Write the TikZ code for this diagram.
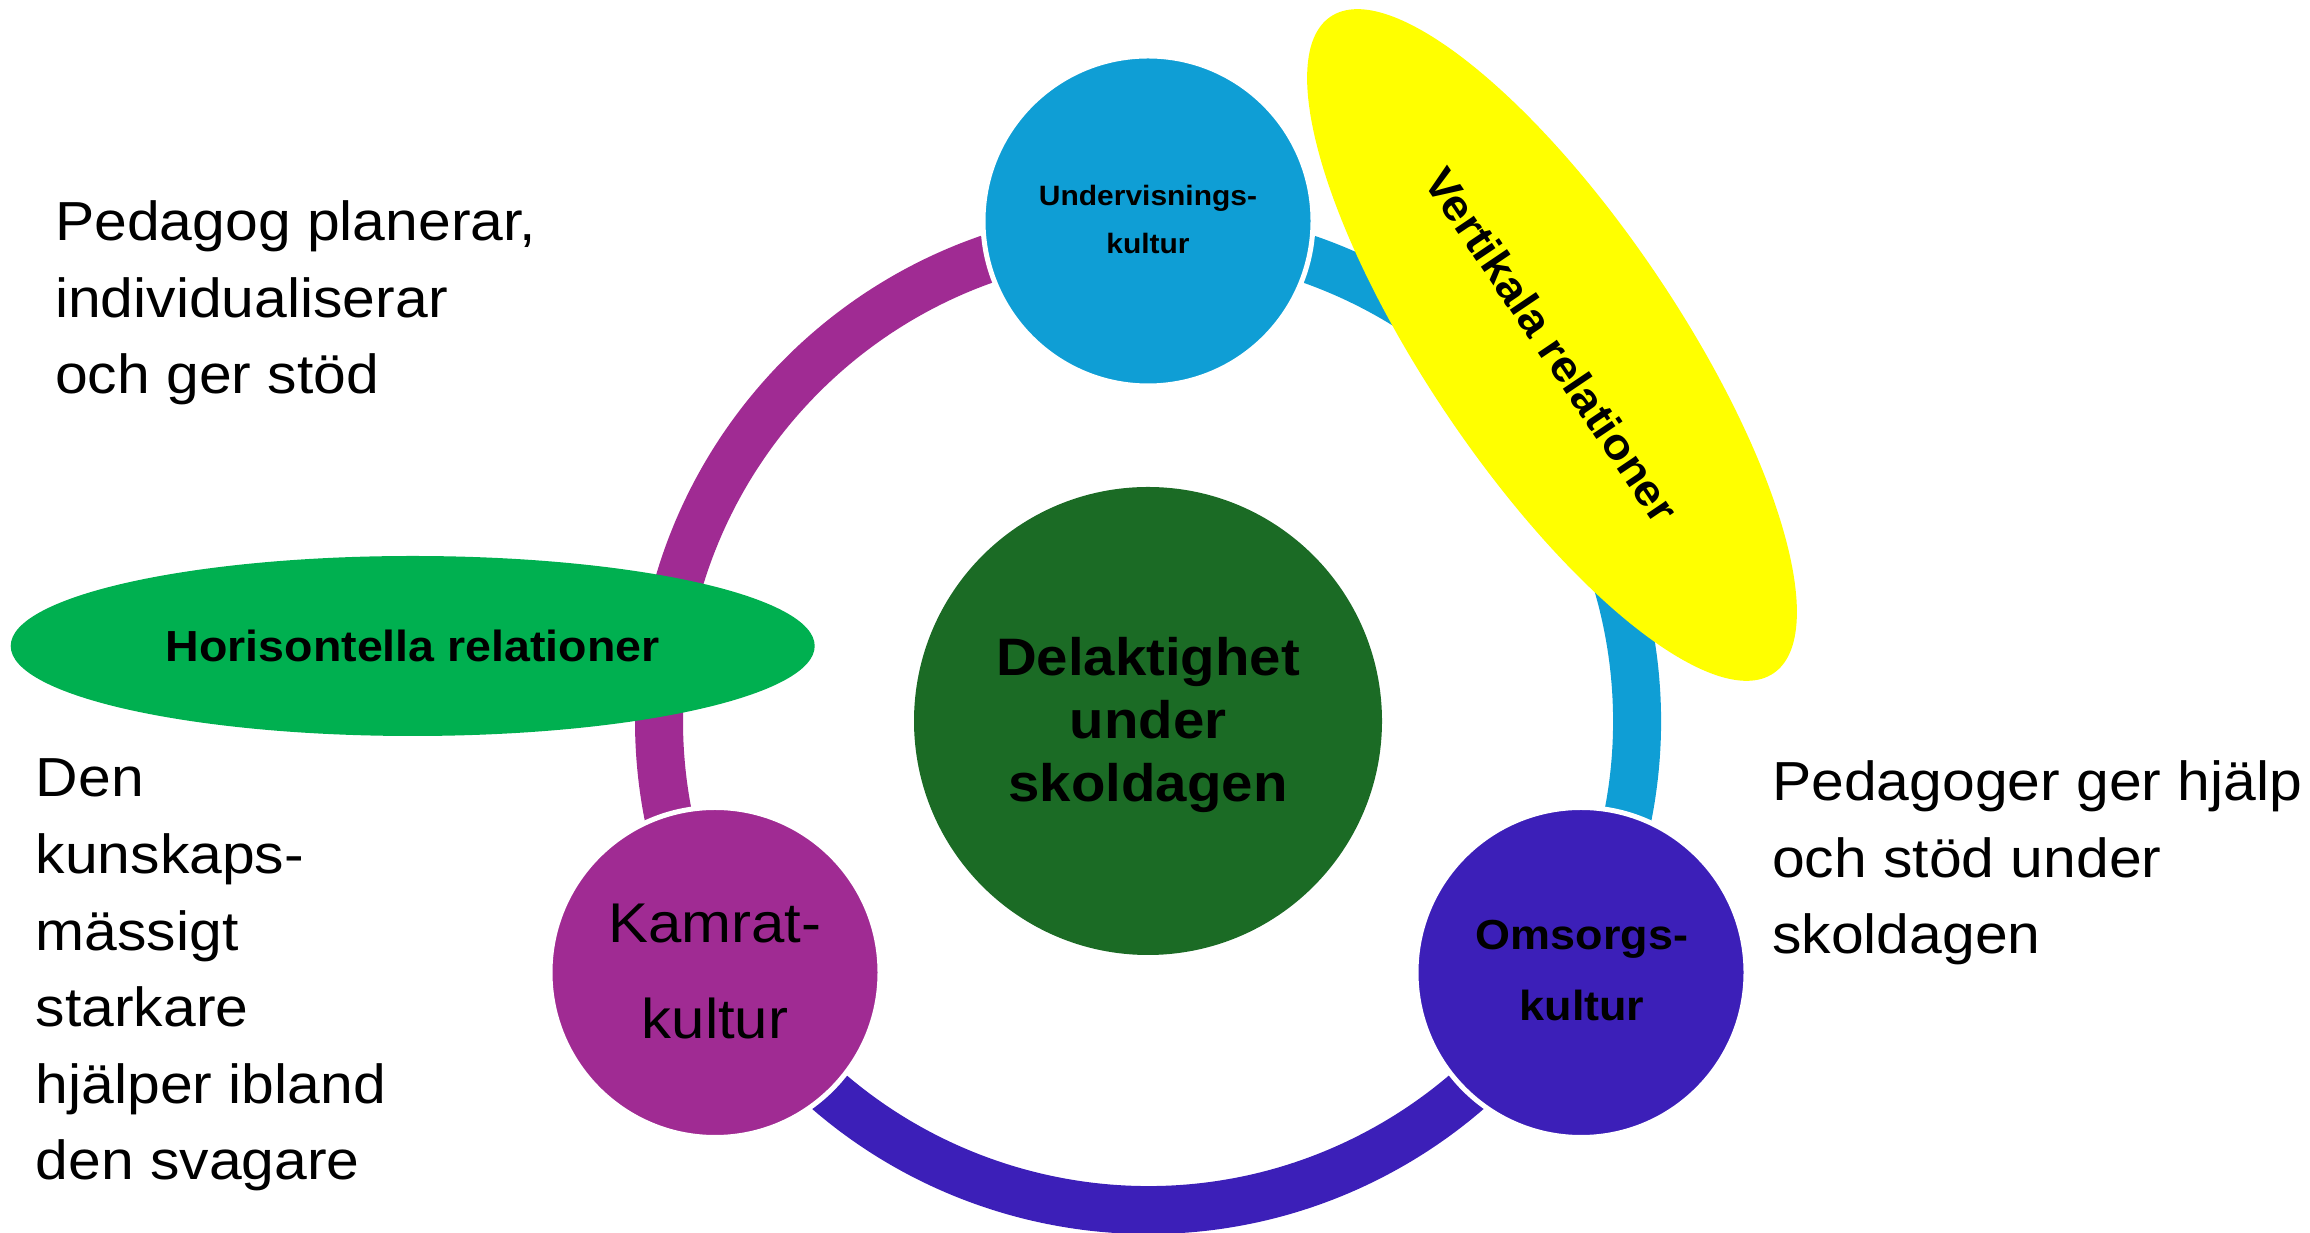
\documentclass[tikz,border=0pt]{standalone}
\usepackage{fontspec}
\setmainfont{Liberation Sans}[FakeStretch=1.07]
\usetikzlibrary{shapes.geometric}
\definecolor{cpurple}{HTML}{A02B93}
\definecolor{cblue}{HTML}{0F9ED5}
\definecolor{cindigo}{HTML}{3C1FB8}
\definecolor{cdkgreen}{HTML}{1B6B25}
\definecolor{cgreen}{HTML}{00B050}
\definecolor{cyellow}{HTML}{FFFF00}
\begin{document}
\begin{tikzpicture}[x=1pt,y=1pt,
  ringarc/.style={line width=48pt},
  culture/.style={circle, draw=white, line width=5pt, minimum size=330pt, inner sep=0pt},
  body/.style={font=\fontsize{55}{76.6}\selectfont, align=left, inner sep=0pt, anchor=base west},
  inlabel/.style={align=center, inner sep=0pt, anchor=base},
  relation/.style={ellipse, inner sep=0pt, font=\bfseries\fontsize{43.5}{52}\selectfont}]
\useasboundingbox (0,0) rectangle (2310,1233);
\coordinate (ringc) at (1148,512);
\path (ringc) ++(90:489) coordinate (p90);
\path (ringc) ++(210:489) coordinate (p210);
\path (ringc) ++(330:489) coordinate (p330);
% ring segments
\draw[ringarc, cpurple] (p90) arc[start angle=90, end angle=210, radius=489];
\draw[ringarc, cindigo] (p210) arc[start angle=210, end angle=330, radius=489];
\draw[ringarc, cblue] (p330) arc[start angle=-30, end angle=90, radius=489];
% circles
\node[culture, fill=cblue] (und) at (1148,1012) {};
\node[culture, fill=cindigo] (oms) at (1581,260.5) {};
\node[culture, fill=cpurple] (kam) at (715,260.5) {};
\node[circle, fill=cdkgreen, minimum size=468pt, inner sep=0pt] (mid) at (ringc) {};
% relation ellipses
\node[relation, fill=cgreen, minimum width=804pt, minimum height=180pt] (hor) at (412.7,587) {Horisontella relationer};
\node[relation, fill=cyellow, minimum width=792pt, minimum height=252pt, rotate=-56] (ver) at (1552,888) {Vertikala relationer};
% labels in circles
\node[inlabel, font=\bfseries\fontsize{28}{48}\selectfont] (undt) at (1148,979) {Undervisnings-\\kultur};
\node[inlabel, font=\bfseries\fontsize{42}{71}\selectfont] (omst) at (1582,212) {Omsorgs-\\kultur};
\node[inlabel, font=\fontsize{56}{96}\selectfont] (kamt) at (715,194) {Kamrat-\\kultur};
\node[inlabel, font=\bfseries\fontsize{52.7}{63}\selectfont] (midt) at (1148,431) {Delaktighet\\under\\skoldagen};
% body texts
\node[body] (tl) at (55,839) {Pedagog planerar,\\individualiserar\\och ger stöd};
\node[body] (bl) at (35.6,53) {Den\\kunskaps-\\mässigt\\starkare\\hjälper ibland\\den svagare};
\node[body] (tr) at (1772,279) {Pedagoger ger hjälp\\och stöd under\\skoldagen};
\end{tikzpicture}
\end{document}
